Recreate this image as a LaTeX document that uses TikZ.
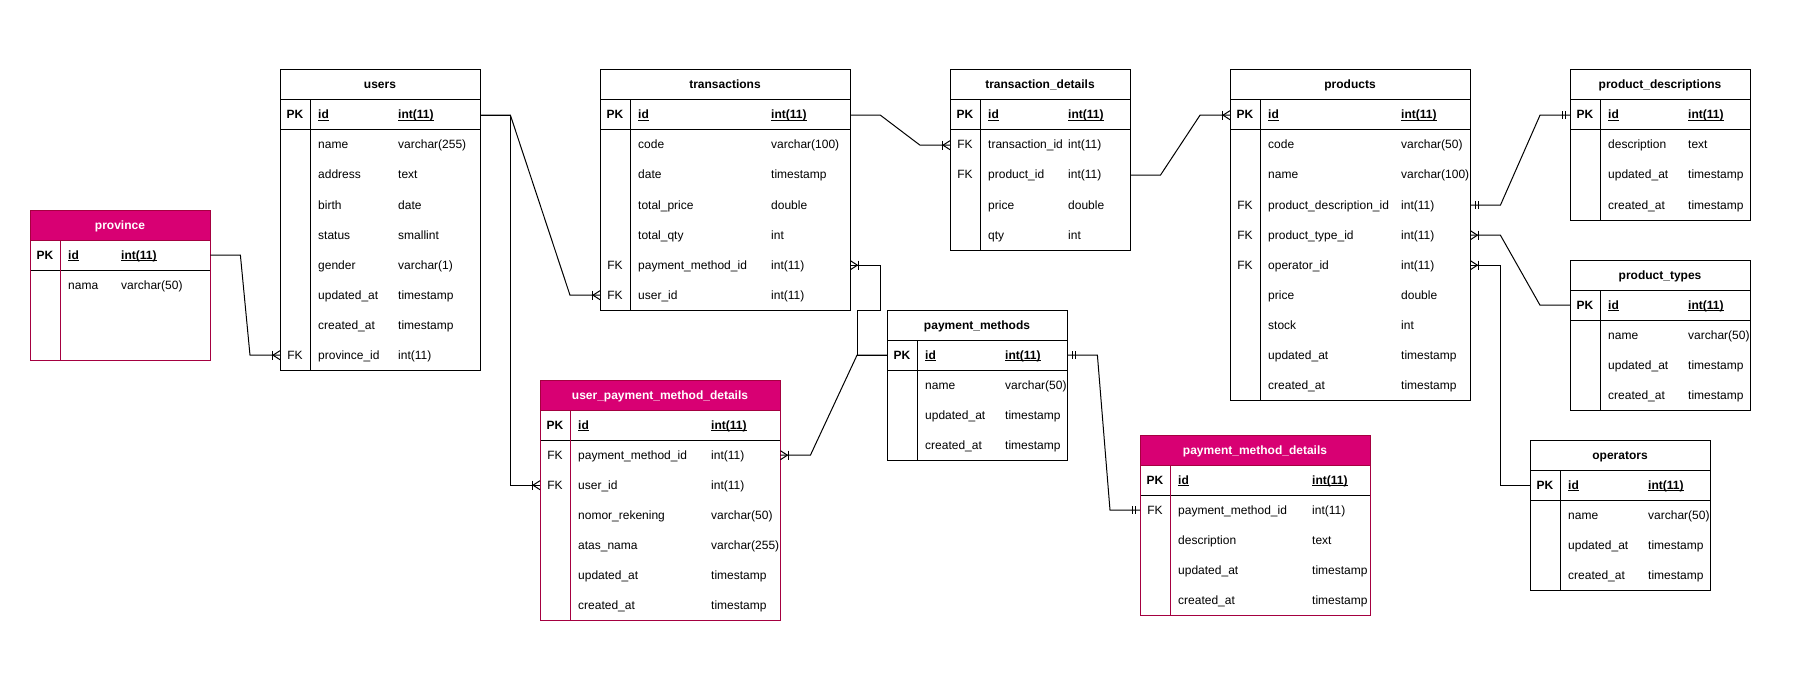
\documentclass[tikz,border=0pt]{standalone}
\usepackage{fontspec}
\setmainfont{Liberation Sans}
\usetikzlibrary{calc}
\definecolor{ertitle}{HTML}{D80073}
\definecolor{erborder}{HTML}{A50040}
\newcommand\erfont{\fontsize{12bp}{14bp}\selectfont}
\newcommand\pku[1]{\underline{\raisebox{0pt}[\height][0pt]{#1}}}
\tikzset{
  conn/.style={draw=black, line width=1bp},
  rowcell/.style={inner sep=0pt, minimum height=30bp},
  keytxt/.style={inner sep=0pt, anchor=center, text height=10bp, text depth=2bp, font=\erfont},
  nametxt/.style={inner sep=0pt, anchor=west, text height=10bp, text depth=2bp, font=\erfont},
  titletxt/.style={inner sep=0pt, anchor=center, text height=10bp, text depth=2bp, font=\erfont\bfseries},
  erplain/.style={titlecol/.style={}, bcol/.style={draw=black}, ttext/.style={text=black}},
  erpink/.style={titlecol/.style={fill=ertitle}, bcol/.style={draw=erborder}, ttext/.style={text=white}},
}
% #1 name, #2 x, #3 y, #4 w, #5 h, #6 type x, #7 title, #8 style, #9 rows
\newcommand\ertable[9]{%
\begin{scope}[#8]
  \path[titlecol] (#2,#3) rectangle ++(#4,30);
  \node[titletxt, ttext] (#1-t) at (#2+#4/2,#3+15) {#7};
  \node[rowcell, minimum width=#4bp, anchor=north west] (#1-0) at (#2,#3+30) {};
  \node[keytxt, font=\erfont\bfseries] (#1-0-k) at (#2+15,#3+45) {PK};
  \node[nametxt, font=\erfont\bfseries] (#1-0-n) at (#2+38,#3+45) {\pku{id}};
  \node[nametxt, font=\erfont\bfseries] (#1-0-y) at (#6,#3+45) {\pku{int(11)}};
  \foreach \k/\n/\ty [count=\i] in {#9} {
    \node[rowcell, minimum width=#4bp, anchor=north west] (#1-\i) at (#2,#3+30+30*\i) {};
    \node[keytxt] (#1-\i-k) at (#2+15,#3+45+30*\i) {\k};
    \node[nametxt] (#1-\i-n) at (#2+38,#3+45+30*\i) {\n};
    \node[nametxt] (#1-\i-y) at (#6,#3+45+30*\i) {\ty};
  }
  \draw[bcol, line width=1bp] (#2,#3+30) -- ++(#4,0);
  \draw[line width=1bp] (#2,#3+60) -- ++(#4,0);
  \draw[bcol, line width=1bp] (#2+30,#3+30) -- (#2+30,#3+#5);
  \draw[bcol, line width=1bp] (#2,#3) rectangle ++(#4,#5);
\end{scope}}
% markers: #1 point, #2 sign (direction away from entity)
\newcommand\crow[2]{%
  \draw[conn] ($(#1)+(#2*7,0)$) -- ($(#1)+(0,-4.5)$);
  \draw[conn] ($(#1)+(#2*7,0)$) -- ($(#1)+(0,4.5)$);
  \draw[conn] ($(#1)+(#2*8,-4.5)$) -- ($(#1)+(#2*8,4.5)$);
}
\newcommand\mone[2]{%
  \draw[conn] ($(#1)+(#2*5,-4)$) -- ($(#1)+(#2*5,4)$);
  \draw[conn] ($(#1)+(#2*8,-4)$) -- ($(#1)+(#2*8,4)$);
}
\begin{document}
\begin{tikzpicture}[x=1bp, y=-1bp]
\fill[white] (0,0) rectangle (1801,676);
\useasboundingbox (0,0) rectangle (1801,676);

\ertable{province}{30}{210}{180}{150}{121}{province}{erpink}{{}/nama/varchar(50)}
\ertable{users}{280}{70}{200}{300}{398}{users}{erplain}{{}/name/varchar(255), {}/address/text, {}/birth/date, {}/status/smallint, {}/gender/varchar(1), {}/updated\_at/timestamp, {}/created\_at/timestamp, FK/province\_id/int(11)}
\ertable{transactions}{600}{70}{250}{240}{771}{transactions}{erplain}{{}/code/varchar(100), {}/date/timestamp, {}/total\_price/double, {}/total\_qty/int, FK/payment\_method\_id/int(11), FK/user\_id/int(11)}
\ertable{td}{950}{70}{180}{180}{1068}{transaction\_details}{erplain}{FK/transaction\_id/int(11), FK/product\_id/int(11), {}/price/double, {}/qty/int}
\ertable{products}{1230}{70}{240}{330}{1401}{products}{erplain}{{}/code/varchar(50), {}/name/varchar(100), FK/product\_description\_id/int(11), FK/product\_type\_id/int(11), FK/operator\_id/int(11), {}/price/double, {}/stock/int, {}/updated\_at/timestamp, {}/created\_at/timestamp}
\ertable{pd}{1570}{70}{180}{150}{1688}{product\_descriptions}{erplain}{{}/description/text, {}/updated\_at/timestamp, {}/created\_at/timestamp}
\ertable{ptypes}{1570}{260}{180}{150}{1688}{product\_types}{erplain}{{}/name/varchar(50), {}/updated\_at/timestamp, {}/created\_at/timestamp}
\ertable{operators}{1530}{440}{180}{150}{1648}{operators}{erplain}{{}/name/varchar(50), {}/updated\_at/timestamp, {}/created\_at/timestamp}
\ertable{pm}{887}{310}{180}{150}{1005}{payment\_methods}{erplain}{{}/name/varchar(50), {}/updated\_at/timestamp, {}/created\_at/timestamp}
\ertable{pmd}{1140}{435}{230}{180}{1312}{payment\_method\_details}{erpink}{FK/payment\_method\_id/int(11), {}/description/text, {}/updated\_at/timestamp, {}/created\_at/timestamp}
\ertable{upmd}{540}{380}{240}{240}{711}{user\_payment\_method\_details}{erpink}{FK/payment\_method\_id/int(11), FK/user\_id/int(11), {}/nomor\_rekening/varchar(50), {}/atas\_nama/varchar(255), {}/updated\_at/timestamp, {}/created\_at/timestamp}

% connectors
\draw[conn] (province-0.east) -- ++(30,0) -- ($(users-8.west)+(-30,0)$) -- (users-8.west);
\crow{users-8.west}{-1}
\draw[conn] (users-0.east) -- ++(30,0) -- ($(transactions-6.west)+(-30,0)$) -- (transactions-6.west);
\crow{transactions-6.west}{-1}
\draw[conn] (users-0.east) -- ++(30,0) |- (upmd-2.west);
\crow{upmd-2.west}{-1}
\draw[conn] (transactions-0.east) -- ++(30,0) -- ($(td-1.west)+(-30,0)$) -- (td-1.west);
\crow{td-1.west}{-1}
\draw[conn] (td-2.east) -- ++(30,0) -- ($(products-0.west)+(-30,0)$) -- (products-0.west);
\crow{products-0.west}{-1}
\draw[conn] (products-3.east) -- ++(30,0) -- ($(pd-0.west)+(-30,0)$) -- (pd-0.west);
\mone{products-3.east}{1}
\mone{pd-0.west}{-1}
\draw[conn] (products-4.east) -- ++(30,0) -- ($(ptypes-0.west)+(-30,0)$) -- (ptypes-0.west);
\crow{products-4.east}{1}
\draw[conn] (products-5.east) -- ++(30,0) |- (operators-0.west);
\crow{products-5.east}{1}
\draw[conn] (pm-0.west) -- ++(-30,0) -- ++(0,-45) -- ++(23,0) |- (transactions-5.east);
\crow{transactions-5.east}{1}
\draw[conn] (pm-0.west) -- ++(-30,0) -- ($(upmd-1.east)+(30,0)$) -- (upmd-1.east);
\crow{upmd-1.east}{1}
\draw[conn] (pm-0.east) -- ++(30,0) -- ($(pmd-1.west)+(-30,0)$) -- (pmd-1.west);
\mone{pm-0.east}{1}
\mone{pmd-1.west}{-1}
\end{tikzpicture}
\end{document}
